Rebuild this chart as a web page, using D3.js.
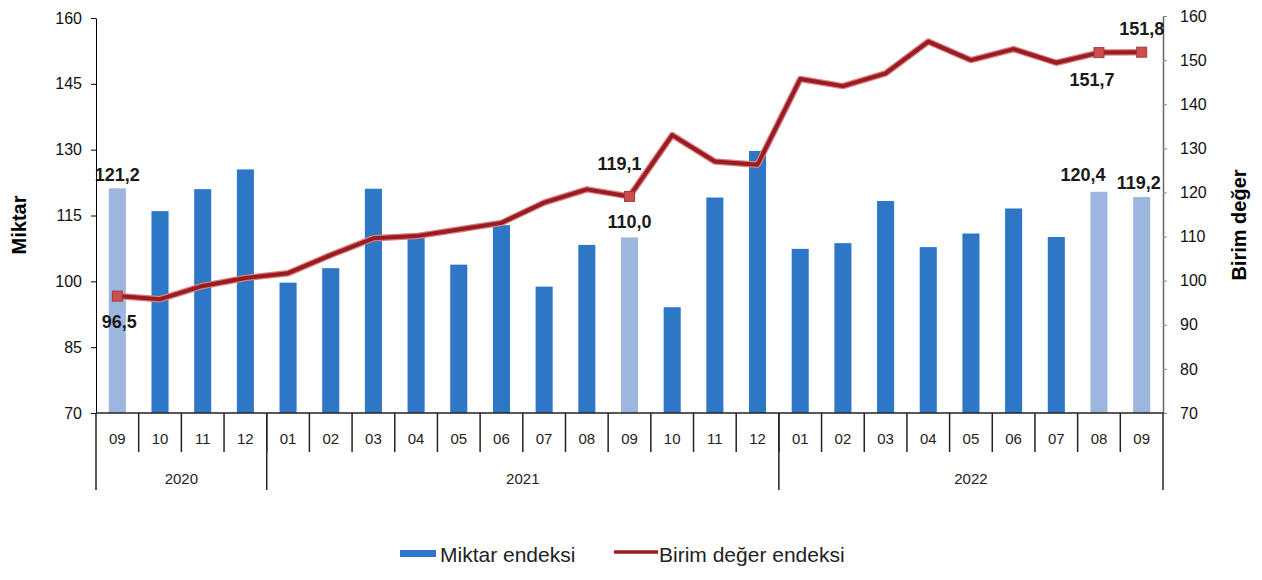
<!DOCTYPE html>
<html>
<head>
<meta charset="utf-8">
<script src="https://cdn.jsdelivr.net/npm/d3@7"></script>
<style>
  html, body { margin: 0; padding: 0; background: #fff; }
  svg { display: block; font-family: "Liberation Sans", Arial, sans-serif; }
</style>
</head>
<body>
<div id="chart"></div>
<script>
const months = ["09","10","11","12","01","02","03","04","05","06","07","08","09","10","11","12","01","02","03","04","05","06","07","08","09"];
const yearLabels = ["2020", "2021", "2022"];
const yearCounts = [4, 12, 9];
const miktar = [121.2,116.0,121.0,125.5,99.7,103.0,121.1,110.0,103.8,112.8,98.8,108.3,110.0,94.1,119.1,129.7,107.4,108.7,118.3,107.8,110.9,116.6,110.1,120.4,119.2];
const birim = [96.5,95.8,98.8,100.6,101.7,105.8,109.6,110.1,111.6,113.1,117.7,120.7,119.1,133.0,127.0,126.3,145.7,144.1,147.0,154.2,150.0,152.5,149.4,151.7,151.8];
const highlighted = [0, 12, 23, 24];
const leftTicks = [70, 85, 100, 115, 130, 145, 160];
const rightTicks = [70, 80, 90, 100, 110, 120, 130, 140, 150, 160];

const W = 1262, H = 580;
const x0 = 96, x1 = 1163, yBottom = 413;
const fmt = v => d3.format(".1f")(v).replace(".", ",");

const svg = d3.select("#chart").append("svg").attr("width", W).attr("height", H);

const idx = d3.range(months.length);
const x = d3.scaleBand().domain(idx).range([x0, x1]).paddingInner(0.6).paddingOuter(0.3);
const step = x.step();
const cx = i => x(i) + x.bandwidth() / 2;
const yL = d3.scaleLinear().domain([70, 160]).range([yBottom, 18]);
const yR = d3.scaleLinear().domain([70, 160]).range([yBottom, 16]);

// bars
svg.append("g").selectAll("rect").data(miktar).join("rect")
  .attr("x", (d, i) => x(i))
  .attr("y", d => yL(d))
  .attr("width", x.bandwidth())
  .attr("height", d => yBottom - yL(d))
  .attr("fill", (d, i) => highlighted.includes(i) ? "#9db6df" : "#2e77c7");

// line with soft halo
const line = d3.line().x((d, i) => cx(i)).y(d => yR(d));
svg.append("path").datum(birim).attr("d", line)
  .attr("fill", "none").attr("stroke", "#d9807f").attr("stroke-width", 6.5).attr("stroke-linejoin", "round");
svg.append("path").datum(birim).attr("d", line)
  .attr("fill", "none").attr("stroke", "#9a1b22").attr("stroke-width", 4).attr("stroke-linejoin", "round");

svg.append("g").selectAll("rect").data(highlighted).join("rect")
  .attr("x", i => cx(i) - 5).attr("y", i => yR(birim[i]) - 5)
  .attr("width", 10).attr("height", 10)
  .attr("fill", "#c9504f").attr("stroke", "#a6373a").attr("stroke-width", 1);

// left axis
const axL = svg.append("g").attr("transform", `translate(${x0},0)`)
  .call(d3.axisLeft(yL).tickValues(leftTicks).tickSize(5).tickSizeOuter(0).tickPadding(9));
axL.select(".domain").attr("stroke", "#000");
axL.selectAll("text").attr("font-size", 16).attr("fill", "#111").attr("font-family", "Liberation Sans, Arial");

// right axis
const axR = svg.append("g").attr("transform", `translate(${x1},0)`)
  .call(d3.axisRight(yR).tickValues(rightTicks).tickSize(4).tickSizeOuter(0).tickPadding(13));
axR.select(".domain").attr("stroke", "#666").attr("stroke-width", 1.5);
axR.selectAll(".tick line").attr("stroke", "#888");
axR.selectAll("text").attr("font-size", 16).attr("fill", "#111").attr("font-family", "Liberation Sans, Arial");

// category axis
const gx = svg.append("g");
gx.append("line").attr("x1", x0).attr("x2", x1).attr("y1", yBottom).attr("y2", yBottom)
  .attr("stroke", "#222").attr("stroke-width", 1.5);
gx.selectAll("line.sep").data(d3.range(1, months.length)).join("line").attr("class", "sep")
  .attr("x1", i => x0 + i * step).attr("x2", i => x0 + i * step)
  .attr("y1", yBottom).attr("y2", 452).attr("stroke", "#222").attr("stroke-width", 1.5);
gx.selectAll("text.m").data(months).join("text").attr("class", "m")
  .attr("x", (d, i) => cx(i)).attr("y", 444)
  .attr("text-anchor", "middle").attr("font-size", 15).attr("fill", "#222").text(d => d);

const yearStarts = yearCounts.map((c, k) => d3.sum(yearCounts.slice(0, k)));
const yearBounds = yearStarts.concat([months.length]);
gx.selectAll("line.ysep").data(yearBounds).join("line").attr("class", "ysep")
  .attr("x1", i => x0 + i * step).attr("x2", i => x0 + i * step)
  .attr("y1", yBottom).attr("y2", 490).attr("stroke", "#222").attr("stroke-width", 1.5);
gx.selectAll("text.y").data(yearLabels).join("text").attr("class", "y")
  .attr("x", (d, k) => x0 + (yearStarts[k] + yearCounts[k] / 2) * step).attr("y", 484)
  .attr("text-anchor", "middle").attr("font-size", 15).attr("fill", "#222").text(d => d);

// axis titles
svg.append("text").attr("transform", "translate(26,225) rotate(-90)")
  .attr("text-anchor", "middle").attr("font-size", 20).attr("font-weight", "bold").text("Miktar");
svg.append("text").attr("transform", "translate(1246,225) rotate(-90)")
  .attr("text-anchor", "middle").attr("font-size", 20).attr("font-weight", "bold").text("Birim değer");

// data labels
const lbl = (tx, ty, s) => svg.append("text").attr("x", tx).attr("y", ty)
  .attr("text-anchor", "middle").attr("font-size", 18).attr("font-weight", "bold")
  .attr("fill", "#1a1a1a").text(s);
lbl(cx(0), yL(miktar[0]) - 7, fmt(miktar[0]));
lbl(cx(12), yL(miktar[12]) - 9, fmt(miktar[12]));
lbl(cx(23) - 16, yL(miktar[23]) - 11, fmt(miktar[23]));
lbl(cx(24) - 3, yL(miktar[24]) - 8, fmt(miktar[24]));
lbl(cx(0) + 2, yR(birim[0]) + 32, fmt(birim[0]));
lbl(cx(12) - 10, yR(birim[12]) - 26, fmt(birim[12]));
lbl(cx(23) - 7, yR(birim[23]) + 33, fmt(birim[23]));
lbl(cx(24), yR(birim[24]) - 17, fmt(birim[24]));

// legend
const lg = svg.append("g");
lg.append("rect").attr("x", 400).attr("y", 550).attr("width", 36).attr("height", 7).attr("fill", "#2e77c7");
lg.append("text").attr("x", 440).attr("y", 562).attr("font-size", 21).attr("fill", "#222").text("Miktar endeksi");
lg.append("line").attr("x1", 614).attr("x2", 658).attr("y1", 552).attr("y2", 552)
  .attr("stroke", "#9a1b22").attr("stroke-width", 3.5);
lg.append("text").attr("x", 659).attr("y", 562).attr("font-size", 21).attr("fill", "#222").text("Birim değer endeksi");
</script>
</body>
</html>
